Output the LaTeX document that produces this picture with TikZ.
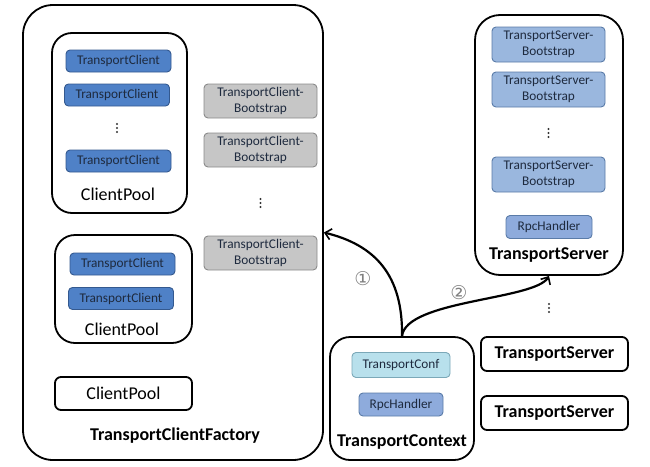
\documentclass[tikz,border=0pt]{standalone}
\usepackage{fontspec}
\setmainfont{Carlito}
\newfontfamily\circfont{DejaVu Sans}
\usetikzlibrary{arrows.meta}
\usetikzlibrary{calc}

\definecolor{clientblue}{HTML}{4F81C7}
\definecolor{clientedge}{HTML}{34598F}
\definecolor{bootgray}{HTML}{C6C6C6}
\definecolor{bootedge}{HTML}{8A8A8A}
\definecolor{serverblue}{HTML}{9AB7DE}
\definecolor{serveredge}{HTML}{5A7BA8}
\definecolor{confcyan}{HTML}{B8E0EC}
\definecolor{confedge}{HTML}{7BA8B8}
\definecolor{rpcblue}{HTML}{8EABDC}
\definecolor{boxtext}{HTML}{1E2A3E}

\tikzset{
	outer/.style={draw, line width=1.8pt, rounded corners=#1, inner sep=0pt},
	inbox/.style={draw, line width=0.9pt, rounded corners=4pt, inner sep=0pt, text=boxtext,
		font=\fontsize{13.3}{16}\selectfont, align=center},
	tcbox/.style={inbox, fill=clientblue, draw=clientedge, minimum width=105pt, minimum height=22pt},
	bootbox/.style={inbox, fill=bootgray, draw=bootedge, minimum width=113pt, minimum height=34pt},
	tsbbox/.style={inbox, fill=serverblue, draw=serveredge, minimum width=113pt, minimum height=35pt},
	rpcbox/.style={inbox, fill=rpcblue, draw=serveredge, minimum height=23pt},
	biglabel/.style={font=\fontsize{18}{20}\selectfont\bfseries},
	poollabel/.style={font=\fontsize{18}{20}\selectfont},
	stepno/.style={text=gray, font=\circfont\fontsize{19}{20}\selectfont},
	flow/.style={line width=2.2pt, -{Straight Barb[length=6pt,width=11pt,line width=1.6pt]}}
}

\begin{document}
\begin{tikzpicture}[x=1pt,y=-1pt]
	\useasboundingbox (0,0) rectangle (650,466);

	% client side
	\node[outer=30pt, minimum width=300pt, minimum height=455pt] (factory) at (173,232.5) {};
	\node[biglabel] (factorylabel) at (175,436) {TransportClientFactory};

	\node[outer=20pt, minimum width=135pt, minimum height=180pt] (pool1) at (119.5,123) {};
	\node[tcbox] (tc11) at (118.5,61) {TransportClient};
	\node[tcbox] (tc12) at (117,95) {TransportClient};
	\coordinate (dots11) at (117,128);
	\node[tcbox] (tc13) at (118.5,161) {TransportClient};
	\node[poollabel] (pool1label) at (118,194) {ClientPool};

	\node[outer=20pt, minimum width=137pt, minimum height=108pt] (pool2) at (123.5,289) {};
	\node[tcbox] (tc21) at (122.5,264) {TransportClient};
	\node[tcbox] (tc22) at (121,298.5) {TransportClient};
	\node[poollabel] (pool2label) at (122,329) {ClientPool};

	\node[outer=6pt, minimum width=137pt, minimum height=33pt, poollabel] (pool3) at (123.5,393.5) {ClientPool};

	\node[bootbox] (boot1) at (260.5,101) {TransportClient-\\Bootstrap};
	\node[bootbox] (boot2) at (260.5,150) {TransportClient-\\Bootstrap};
	\coordinate (dots12) at (260.5,203);
	\node[bootbox] (boot3) at (260.5,253) {TransportClient-\\Bootstrap};

	% server side
	\node[outer=25pt, minimum width=148pt, minimum height=260pt] (server) at (549,145) {};
	\node[tsbbox] (tsb1) at (548.5,44.5) {TransportServer-\\Bootstrap};
	\node[tsbbox] (tsb2) at (548.5,89.5) {TransportServer-\\Bootstrap};
	\coordinate (dots21) at (548.5,133);
	\node[tsbbox] (tsb3) at (548.5,174.5) {TransportServer-\\Bootstrap};
	\node[rpcbox, minimum width=86pt] (rpc1) at (549,227) {RpcHandler};
	\node[biglabel] (serverlabel) at (549,255) {TransportServer};

	\coordinate (dots22) at (549,308);
	\node[outer=6pt, minimum width=147pt, minimum height=34pt, biglabel] (server2) at (554.5,354) {TransportServer};
	\node[outer=6pt, minimum width=147pt, minimum height=34pt, biglabel] (server3) at (554.5,413) {TransportServer};

	% context
	\node[outer=20pt, minimum width=144pt, minimum height=123pt] (ctx) at (402,398.5) {};
	\node[inbox, fill=confcyan, draw=confedge, minimum width=98pt, minimum height=25pt] (conf) at (401,365) {TransportConf};
	\node[rpcbox, minimum width=84pt] (rpc2) at (401,404.5) {RpcHandler};
	\node[biglabel] (ctxlabel) at (402,442) {TransportContext};

	% vertical ellipses
	\foreach \d in {dots11,dots12,dots21,dots22}
		\foreach \k in {-4,0,4}
			\fill[black!80] ($(\d)+(0,\k)$) circle (1.1pt);

	\draw[flow] (ctx.north) .. controls (403,275) and (375,245) .. (factory.east);
	\draw[flow] (ctx.north) .. controls (406,300) and (535,300) .. (server.south);
	\node[stepno] (step1) at (363,279) {①};
	\node[stepno] (step2) at (459,293) {②};
\end{tikzpicture}
\end{document}
